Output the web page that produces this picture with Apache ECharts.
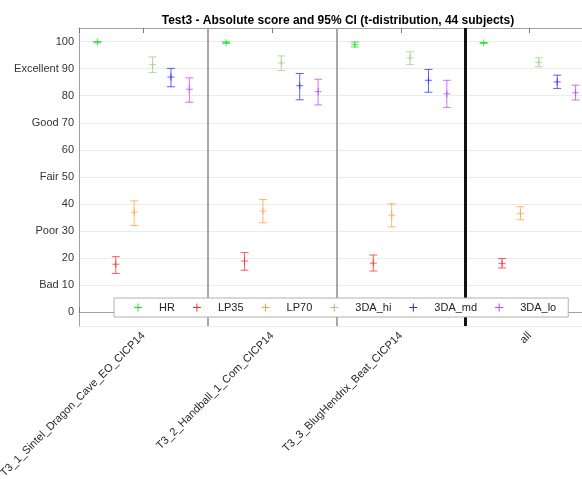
<!DOCTYPE html>
<html>
<head>
<meta charset="utf-8">
<script src="https://cdn.jsdelivr.net/npm/echarts@6/dist/echarts.min.js"></script>
<style>
  html, body { margin: 0; padding: 0; background: #fff; }
  #chart { width: 582px; height: 479px; }
</style>
</head>
<body>
<div id="chart"></div>
<script>
// Stimuli (x categories)
const categories = [
  'T3_1_Sintel_Dragon_Cave_EO_CICP14',
  'T3_2_Handball_1_Com_CICP14',
  'T3_3_BlugHendrix_Beat_CICP14',
  'all'
];

// Conditions
const conditionNames = ['HR', 'LP35', 'LP70', '3DA_hi', '3DA_md', '3DA_lo'];

// Mean scores per condition, one value per stimulus
const meanHR    = [99.8, 99.6, 98.9, 99.5];
const meanLP35  = [17.8, 19.0, 18.2, 18.1];
const meanLP70  = [37.0, 37.4, 35.9, 36.6];
const meanHi    = [91.5, 92.1, 94.0, 92.3];
const meanMd    = [86.9, 83.7, 85.7, 85.1];
const meanLo    = [82.4, 81.5, 80.7, 81.1];

// Lower bounds of the 95% confidence intervals
const lowHR     = [99.5, 99.3, 98.0, 99.3];
const lowLP35   = [14.4, 15.6, 15.3, 16.4];
const lowLP70   = [32.1, 33.1, 31.6, 34.2];
const lowHi     = [88.6, 89.3, 91.5, 90.7];
const lowMd     = [83.3, 78.5, 81.3, 82.7];
const lowLo     = [77.6, 76.6, 75.7, 78.4];

// Upper bounds of the 95% confidence intervals
const highHR    = [100.0, 99.9, 99.8, 99.7];
const highLP35  = [20.6, 22.1, 21.2, 19.9];
const highLP70  = [41.2, 41.7, 40.1, 39.0];
const highHi    = [94.3, 94.7, 96.2, 94.0];
const highMd    = [90.1, 88.2, 89.7, 87.6];
const highLo    = [86.6, 86.1, 85.7, 83.9];

// Y tick labels with the quality scale names
const yTickValues = [0, 10, 20, 30, 40, 50, 60, 70, 80, 90, 100];
const yTickLabels = ['0', 'Bad 10', '20', 'Poor 30', '40', 'Fair 50', '60', 'Good 70', '80', 'Excellent 90', '100'];

// Stimulus separators (between groups)
const separators = [1.5, 2.5, 3.5];

const means = [meanHR, meanLP35, meanLP70, meanHi, meanMd, meanLo];
const lows  = [lowHR, lowLP35, lowLP70, lowHi, lowMd, lowLo];
const highs = [highHR, highLP35, highLP70, highHi, highMd, highLo];

const colors = ['#22dd22', '#ff2a2a', '#ffa040', '#99cc88', '#2a2aff', '#c040ff'];
// horizontal offset of each condition within a stimulus group (axis units)
const offsets = [-2.5, -1.5, -0.5, 0.5, 1.5, 2.5].map(v => v / 7);

const FONT = 'Liberation Sans, Arial, Helvetica, sans-serif';
const plusIcon = 'path://M0,3.5H8V4.5H0Z M3.5,0H4.5V8H3.5Z';

function renderErrorBar(params, api) {
  const k = params.seriesIndex;
  const x = api.value(0) + offsets[k];
  const pm = api.coord([x, api.value(1)]);
  const pl = api.coord([x, api.value(2)]);
  const ph = api.coord([x, api.value(3)]);
  const cap = 4, mk = 3.5;
  const style = { stroke: colors[k], lineWidth: 1, opacity: 0.75 };
  return {
    type: 'group',
    children: [
      { type: 'line', shape: { x1: pl[0], y1: pl[1], x2: ph[0], y2: ph[1] }, style },
      { type: 'line', shape: { x1: pl[0] - cap, y1: pl[1], x2: pl[0] + cap, y2: pl[1] }, style },
      { type: 'line', shape: { x1: ph[0] - cap, y1: ph[1], x2: ph[0] + cap, y2: ph[1] }, style },
      { type: 'line', shape: { x1: pm[0] - mk, y1: pm[1], x2: pm[0] + mk, y2: pm[1] }, style },
      { type: 'line', shape: { x1: pm[0], y1: pm[1] - mk, x2: pm[0], y2: pm[1] + mk }, style }
    ]
  };
}

const series = conditionNames.map((name, k) => {
  const s = {
    name,
    type: 'custom',
    renderItem: renderErrorBar,
    itemStyle: { color: colors[k] },
    encode: { x: 0, y: [1, 2, 3] },
    data: categories.map((c, i) => [i + 1, means[k][i], lows[k][i], highs[k][i]]),
    z: 3
  };
  if (k === 0) {
    s.markLine = {
      silent: true,
      symbol: ['none', 'none'],
      label: { show: false },
      z: 2,
      data: separators.map((v, j) => ({
        xAxis: v,
        lineStyle: j === separators.length - 1
          ? { color: '#111', width: 3, type: 'solid' }
          : { color: '#a8a8a8', width: 2, type: 'solid' }
      }))
    };
  }
  return s;
});

const chart = echarts.init(document.getElementById('chart'), null, { renderer: 'canvas' });
chart.setOption({
  animation: false,
  backgroundColor: '#fff',
  title: {
    text: 'Test3 - Absolute score and 95% CI (t-distribution, 44 subjects)',
    left: 333, top: 10, textAlign: 'center',
    textStyle: { fontFamily: FONT, fontSize: 12, fontWeight: 'bold', color: '#000' }
  },
  grid: { left: 79, right: -12, top: 28, bottom: 153, containLabel: false, outerBoundsMode: 'none' },
  legend: {
    data: conditionNames.map((n, k) => ({
      name: n, icon: plusIcon,
      itemStyle: { color: colors[k], borderWidth: 0, opacity: 1 }
    })),
    left: 114, top: 298,
    itemWidth: 8, itemHeight: 8, itemGap: 18,
    padding: [4, 12, 4, 20],
    borderColor: '#b0b0b0', borderWidth: 1, backgroundColor: '#fff',
    textStyle: { fontFamily: FONT, fontSize: 11, color: '#222', padding: [0, 0, 0, 12] },
    selectedMode: false
  },
  xAxis: [
    {
      type: 'value', position: 'bottom', min: 0.5, max: 4.5, interval: 0.5,
      axisLine: { show: true, lineStyle: { color: '#a0a0a0', width: 1 } },
      axisTick: { show: true, inside: true, length: 5, lineStyle: { color: '#777' } },
      splitLine: { show: false },
      axisLabel: {
        rotate: 45, margin: 8, fontFamily: FONT, fontSize: 11, color: '#262626',
        formatter: v => (Number.isInteger(v) ? categories[v - 1] : '')
      }
    },
    {
      type: 'value', position: 'top', min: 0.5, max: 4.5, interval: 0.5,
      axisLine: { show: true, lineStyle: { color: '#a0a0a0', width: 1 } },
      axisTick: { show: true, inside: true, length: 5, lineStyle: { color: '#777' } },
      splitLine: { show: false },
      axisLabel: { show: false }
    }
  ],
  yAxis: {
    type: 'value', min: -5, max: 105, splitNumber: 11,
    axisLine: { show: true, lineStyle: { color: '#a0a0a0', width: 1 } },
    axisTick: { show: false },
    splitLine: { show: true, lineStyle: { color: '#ebebeb', width: 1 } },
    axisLabel: {
      margin: 5, fontFamily: FONT, fontSize: 11, color: '#333',
      formatter: v => {
        const i = yTickValues.indexOf(v);
        return i >= 0 ? yTickLabels[i] : '';
      }
    }
  },
  series
});
</script>
</body>
</html>
